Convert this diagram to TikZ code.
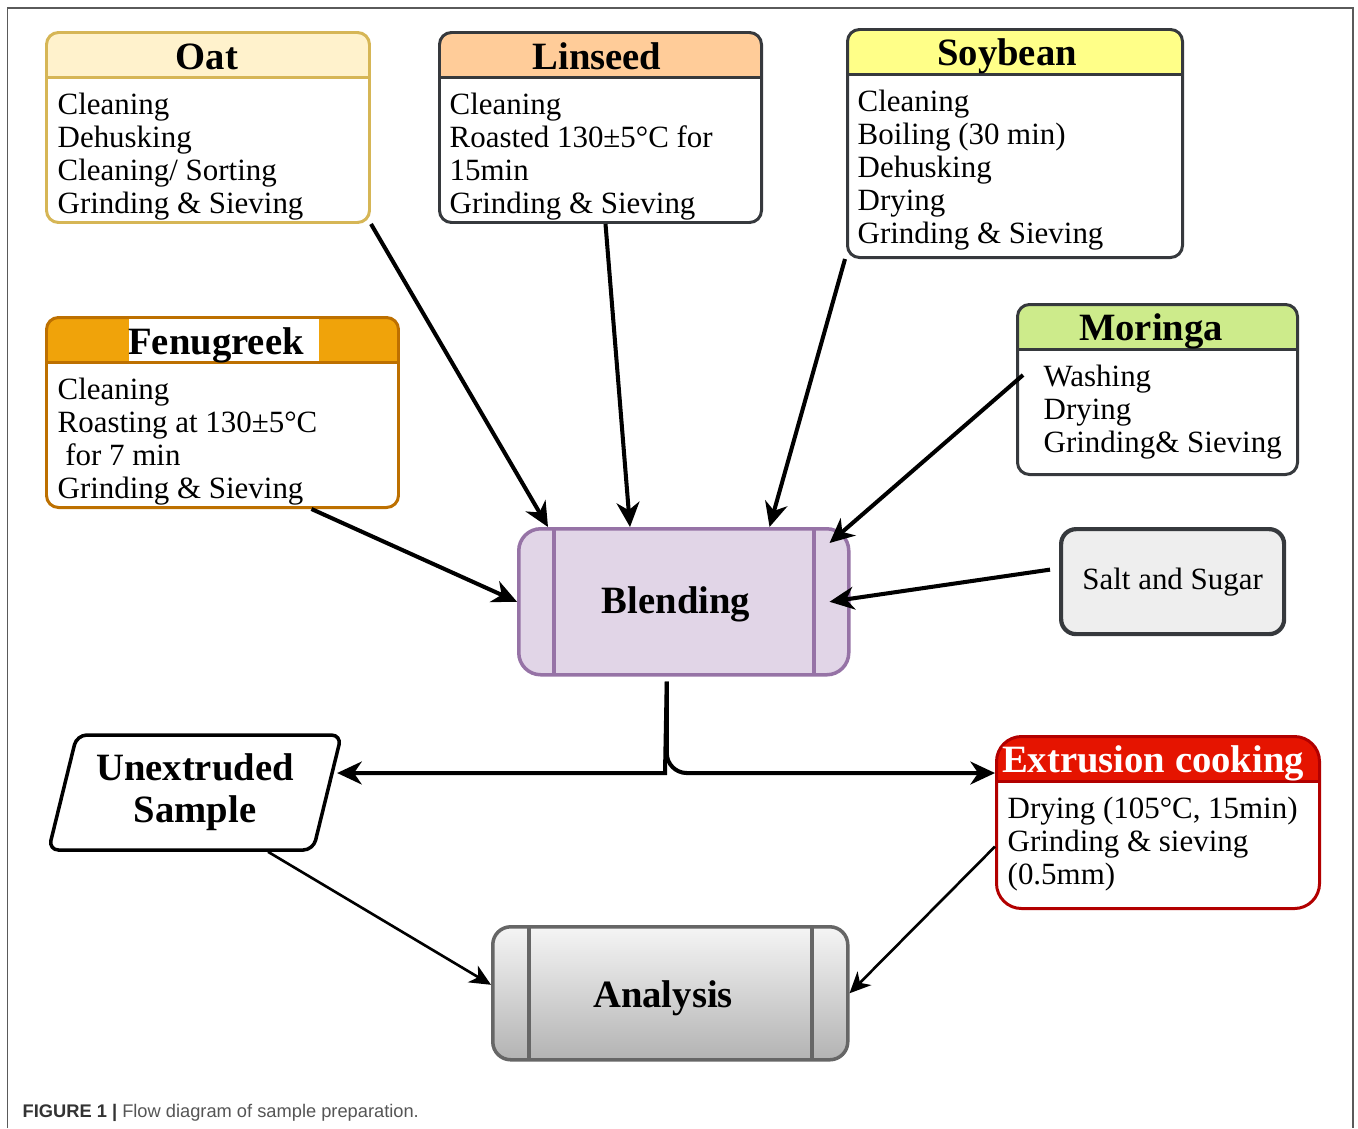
\documentclass[tikz,border=0pt]{standalone}
\usepackage{fontspec}
\setmainfont{Liberation Serif}
\newfontfamily\capfont{Liberation Sans}
\usepackage{tikz}
\usetikzlibrary{arrows.meta,shapes.geometric,positioning}
\definecolor{oatline}{HTML}{D6B656}
\definecolor{oatfill}{HTML}{FFF2CC}
\definecolor{darkline}{HTML}{36393D}
\definecolor{linfill}{HTML}{FFCC99}
\definecolor{soyfill}{HTML}{FFFF88}
\definecolor{fenline}{HTML}{BD7000}
\definecolor{fenfill}{HTML}{F0A30A}
\definecolor{morfill}{HTML}{CDEB8B}
\definecolor{saltfill}{HTML}{EEEEEE}
\definecolor{blendline}{HTML}{9673A6}
\definecolor{blendfill}{HTML}{E1D5E7}
\definecolor{extline}{HTML}{B20000}
\definecolor{extfill}{HTML}{E51400}
\definecolor{analine}{HTML}{666666}
\definecolor{anatop}{HTML}{F5F5F5}
\definecolor{anabot}{HTML}{B3B3B3}
\definecolor{frameline}{HTML}{5A5A5A}
\definecolor{capgray}{HTML}{555555}
\definecolor{capdark}{HTML}{333333}

\begin{document}
\begin{tikzpicture}[
    stage/.style 2 args={draw=#1, fill=white, line width=0.85pt, rounded corners=0.12cm, anchor=north west,
        path picture={\fill[#2, sharp corners] (path picture bounding box.north west) rectangle ([yshift=-0.45cm]path picture bounding box.north east);
            \draw[#1, line width=0.85pt, sharp corners] ([yshift=-0.45cm]path picture bounding box.north west) -- ([yshift=-0.45cm]path picture bounding box.north east);}},
    proc/.style 2 args={draw=#1, line width=1pt, anchor=north west,
        path picture={\draw[#1, line width=1pt, sharp corners] ([xshift=#2]path picture bounding box.north west) -- ([xshift=#2]path picture bounding box.south west)
            ([xshift=-#2]path picture bounding box.north east) -- ([xshift=-#2]path picture bounding box.south east);}},
    title/.style={font=\fontsize{11}{12}\selectfont\bfseries, anchor=base},
    steps/.style={font=\fontsize{8.8}{9.4}\selectfont, align=left, anchor=north west},
    arr/.style={-{Stealth[length=7pt,width=6.5pt,inset=2.2pt]}, line width=1.15pt},
    thinarr/.style={-{Stealth[length=6pt,width=5.5pt,inset=1.8pt]}, line width=0.75pt}
]
                \tikzstyle{every node}+=[inner sep=0pt]
                \useasboundingbox (0,0) rectangle (13.58,-11.28);
                \draw [frameline, line width=0.5pt] (0.075,-11.28) -- (0.075,-0.08) -- (13.53,-0.08) -- (13.53,-11.28);
                \node [stage={oatline}{oatfill}, minimum width=3.23cm, minimum height=1.9cm] (oat) at (0.45,-0.31) {};
                \node [title] (oattitle) at (2.07,-0.69) {Oat};
                \node [steps] (oatsteps) at (0.57,-0.92) {Cleaning\\Dehusking\\Cleaning/ Sorting\\Grinding \& Sieving};
                \node [stage={darkline}{linfill}, minimum width=3.22cm, minimum height=1.9cm] (linseed) at (4.38,-0.31) {};
                \node [title] (lintitle) at (5.97,-0.69) {Linseed};
                \node [steps] (linsteps) at (4.49,-0.92) {Cleaning\\Roasted 130±5°C for\\15min\\Grinding \& Sieving};
                \node [stage={darkline}{soyfill}, minimum width=3.35cm, minimum height=2.28cm] (soybean) at (8.46,-0.28) {};
                \node [title] (soytitle) at (10.07,-0.65) {Soybean};
                \node [steps] (soysteps) at (8.57,-0.89) {Cleaning\\Boiling (30 min)\\Dehusking\\Drying\\Grinding \& Sieving};
                \node [stage={fenline}{fenfill}, minimum width=3.52cm, minimum height=1.9cm] (fenu) at (0.45,-3.16) {};
                \node [fill=white, anchor=north west, minimum width=1.9cm, minimum height=0.42cm] (fenpatch) at (1.28,-3.18) {};
                \node [title] (fentitle) at (2.16,-3.54) {Fenugreek};
                \node [steps] (fensteps) at (0.57,-3.77) {Cleaning\\Roasting at 130±5°C\\\ for 7 min\\Grinding \& Sieving};
                \node [stage={darkline}{morfill}, minimum width=2.8cm, minimum height=1.7cm] (moringa) at (10.16,-3.03) {};
                \node [title] (mortitle) at (11.51,-3.40) {Moringa};
                \node [steps] (morsteps) at (10.43,-3.64) {Washing\\Drying\\Grinding\& Sieving};
                \node [draw=darkline, fill=saltfill, line width=1.2pt, rounded corners=0.15cm, anchor=north west, minimum width=2.23cm, minimum height=1.05cm, font=\fontsize{8.8}{9.4}\selectfont] (salt) at (10.59,-5.27) {Salt and Sugar};
                \node [proc={blendline}{0.35cm}, fill=blendfill, rounded corners=0.22cm, minimum width=3.3cm, minimum height=1.46cm] (blend) at (5.17,-5.27) {};
                \node [title] (blendtitle) at (6.76,-6.13) {Blending};
                \node [draw, line width=1pt, trapezium, trapezium left angle=73, trapezium right angle=107, trapezium stretches=true, rounded corners=0.1cm, minimum width=2.94cm, minimum height=1.15cm, align=center, font=\fontsize{11}{12}\selectfont\bfseries] (unext) at (1.95,-7.925) {Unextruded\\Sample};
                \node [stage={extline}{extfill}, rounded corners=0.25cm, minimum width=3.23cm, minimum height=1.72cm] (extr) at (9.95,-7.35) {};
                \node [title, white] (extrtitle) at (11.53,-7.72) {Extrusion cooking};
                \node [steps] (extrsteps) at (10.07,-7.96) {Drying (105°C, 15min)\\Grinding \& sieving\\(0.5mm)};
                \node [proc={analine}{0.36cm}, top color=anatop, bottom color=anabot, rounded corners=0.18cm, minimum width=3.55cm, minimum height=1.33cm] (analysis) at (4.91,-9.25) {};
                \node [title] (anatitle) at (6.63,-10.07) {Analysis};
                \coordinate (split) at (6.65,-7.73);
                \draw [arr] (oat.south east) -- ([xshift=0.31cm]blend.north west);
                \draw [arr] ([xshift=0.05cm]linseed.south) -- ([xshift=1.13cm]blend.north west);
                \draw [arr] ([xshift=-0.01cm]soybean.south west) -- ([xshift=-0.81cm]blend.north east);
                \draw [arr] ([shift={(0.07,-0.72)}]moringa.north west) -- ([shift={(-0.21,-0.16)}]blend.north east);
                \draw [arr] ([shift={(-0.09,0.12)}]salt.west) -- ([xshift=-0.21cm]blend.east);
                \draw [arr] ([xshift=0.89cm]fenu.south) -- (blend.west);
                \draw [arr, shorten >=0.08cm] ([shift={(-0.17,-0.05)}]blend.south) -- (split) -- (split -| unext.east);
                \draw [arr, rounded corners=0.2cm] ([shift={(-0.17,-0.05)}]blend.south) |- (split -| extr.west);
                \draw [thinarr] ([xshift=0.73cm]unext.south) -- ([yshift=0.085cm]analysis.west);
                \draw [thinarr] ([yshift=-0.24cm]extr.west) -- (analysis.east);
                \node [anchor=base west, font=\capfont\fontsize{5.2}{6}\selectfont] (caption) at (0.22,-11.17) {\textcolor{capdark}{\textbf{FIGURE 1 |}} \textcolor{capgray}{Flow diagram of sample preparation.}};
            \end{tikzpicture}
\end{document}
